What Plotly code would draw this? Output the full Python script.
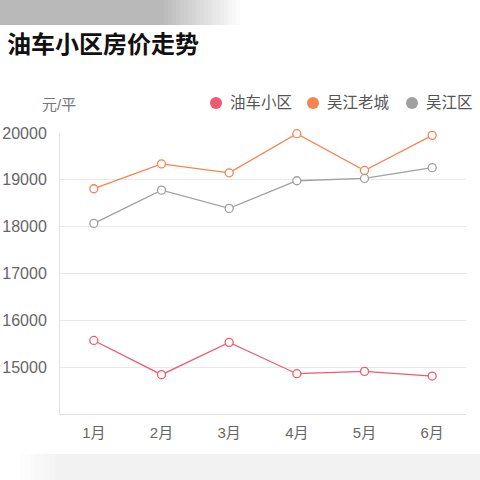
import plotly.graph_objects as go

# 油车小区房价走势 - 三条折线
months = ['1月', '2月', '3月', '4月', '5月', '6月']
youche = [15570, 14840, 15530, 14860, 14910, 14810]
laocheng = [18810, 19340, 19150, 19985, 19200, 19950]
wujiang = [18070, 18780, 18390, 18980, 19030, 19260]
y_ticks = [15000, 16000, 17000, 18000, 19000, 20000]

names = ['油车小区', '吴江老城', '吴江区']
colors = ['#f05a6e', '#f7834f', '#a0a0a0']
series = [youche, laocheng, wujiang]

W, H = 480, 480
L, R, T, B = 60, 14, 133, 66
pw, ph = W - L - R, H - T - B


def px(x):
    return (x - L) / pw


def py_(y):
    return (H - B - y) / ph


fig = go.Figure()
for name, col, vals in zip(names, colors, series):
    fig.add_trace(go.Scatter(x=months, y=vals, name=name, mode='lines+markers',
                             line=dict(color=col, width=1.3),
                             marker=dict(symbol='circle', size=8, color='white',
                                         line=dict(color=col, width=1.3)),
                             cliponaxis=False, showlegend=False))

# legend drawn by hand (dot + label)
shapes = []
annotations = []
dot_x = [216, 313, 412]
for name, col, dx in zip(names, colors, dot_x):
    shapes.append(dict(type='circle', xref='paper', yref='paper', xsizemode='pixel', ysizemode='pixel',
                       xanchor=px(dx), yanchor=py_(103), x0=-6, x1=6, y0=-6, y1=6,
                       fillcolor=col, line=dict(width=0)))
    annotations.append(dict(text=name, xref='paper', yref='paper', x=px(dx + 12), y=py_(103),
                            xanchor='left', yanchor='middle', showarrow=False,
                            font=dict(size=15.5, color='#555555')))
annotations.append(dict(text='元/平', xref='paper', yref='paper', x=px(59), y=py_(104),
                        xanchor='center', yanchor='middle', showarrow=False,
                        font=dict(size=15, color='#777777')))

# screenshot bands at top / bottom (stepped fade)
for i in range(20):
    a = 160 + i * 4
    op = 1 - i / 20
    shapes.append(dict(type='rect', xref='paper', yref='paper', x0=px(a), x1=px(a + 4), y0=py_(25), y1=py_(0),
                       fillcolor='#b9b9b9', opacity=op, line=dict(width=0), layer='below'))
shapes.append(dict(type='rect', xref='paper', yref='paper', x0=px(0), x1=px(160), y0=py_(25), y1=py_(0),
                   fillcolor='#b9b9b9', line=dict(width=0), layer='below'))
for i in range(8):
    a = 20 + i * 5
    shapes.append(dict(type='rect', xref='paper', yref='paper', x0=px(a), x1=px(a + 5), y0=py_(480), y1=py_(454),
                       fillcolor='#f2f2f2', opacity=(i + 1) / 8, line=dict(width=0), layer='below'))
shapes.append(dict(type='rect', xref='paper', yref='paper', x0=px(60), x1=px(480), y0=py_(480), y1=py_(454),
                   fillcolor='#f2f2f2', line=dict(width=0), layer='below'))

fig.update_layout(
    width=W, height=H,
    margin=dict(l=L, r=R, t=T, b=B, autoexpand=False),
    paper_bgcolor='white', plot_bgcolor='white',
    font=dict(family='Liberation Sans, Noto Sans CJK SC', color='#666666'),
    title=dict(text='<b>油车小区房价走势</b>', x=7 / W, xref='container', xanchor='left',
               y=1 - 45 / H, yanchor='middle',
               font=dict(family='Noto Sans CJK SC', size=24, color='#111111')),
    shapes=shapes, annotations=annotations,
    xaxis=dict(range=[-0.5, 5.5], showgrid=False, showline=True, linecolor='#e0e0e0', linewidth=1,
               automargin=False, ticks='', ticklabelstandoff=5,
               tickfont=dict(size=15, color='#666666'), zeroline=False),
    yaxis=dict(range=[14000, 20000], tickvals=y_ticks, tickformat='d', showgrid=True, gridcolor='#e8e8e8',
               showline=True, linecolor='#e0e0e0', automargin=False, ticks='', ticklabelstandoff=9,
               tickfont=dict(size=16, color='#666666'), zeroline=False),
)

fig.write_html('out.html', config={'displayModeBar': False},
               post_script="document.body.style.margin='0';")
